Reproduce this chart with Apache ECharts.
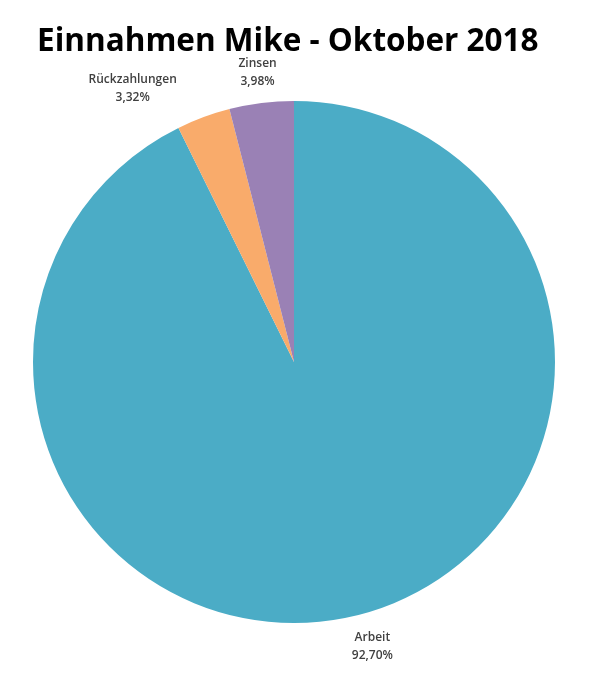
<!DOCTYPE html>
<html>
<head>
<meta charset="utf-8">
<script src="https://cdn.jsdelivr.net/npm/echarts@6/dist/echarts.min.js"></script>
<style>html,body{margin:0;padding:0;background:#fff;}#c{width:614px;height:696px;}</style>
</head>
<body>
<div id="c"></div>
<script>
const categories = ['Arbeit', 'Rückzahlungen', 'Zinsen'];
const values = [92.70, 3.32, 3.98];
const colors = ['#4BACC6', '#F9AB6B', '#9A81B5'];
const titleText = 'Einnahmen Mike - Oktober 2018';

const chart = echarts.init(document.getElementById('c'));
const fmt = v => v.toFixed(2).replace('.', ',') + '%';
const lineLen2 = [12, 60, 0];
chart.setOption({
  animation: false,
  backgroundColor: '#fff',
  title: {
    text: titleText,
    left: 32, top: 21,
    textStyle: { fontFamily: 'Open Sans', fontWeight: 'bold', fontSize: 31.5, color: '#000' }
  },
  series: [{
    type: 'pie',
    center: [294, 362],
    radius: 261,
    startAngle: 90,
    clockwise: true,
    avoidLabelOverlap: false,
    data: categories.map((c, i) => ({
      name: c, value: values[i],
      itemStyle: { color: colors[i] },
      labelLine: { show: false, length: 31, length2: lineLen2[i] }
    })),
    label: {
      show: true,
      position: 'outside',
      distanceToLabelLine: 0,
      formatter: p => p.name + '\n' + fmt(p.value),
      fontFamily: 'Open Sans', fontWeight: 600, fontSize: 12, color: '#404040', lineHeight: 18, align: 'center'
    },
    labelLayout: { align: 'center', verticalAlign: 'middle' }
  }]
});
</script>
</body>
</html>
